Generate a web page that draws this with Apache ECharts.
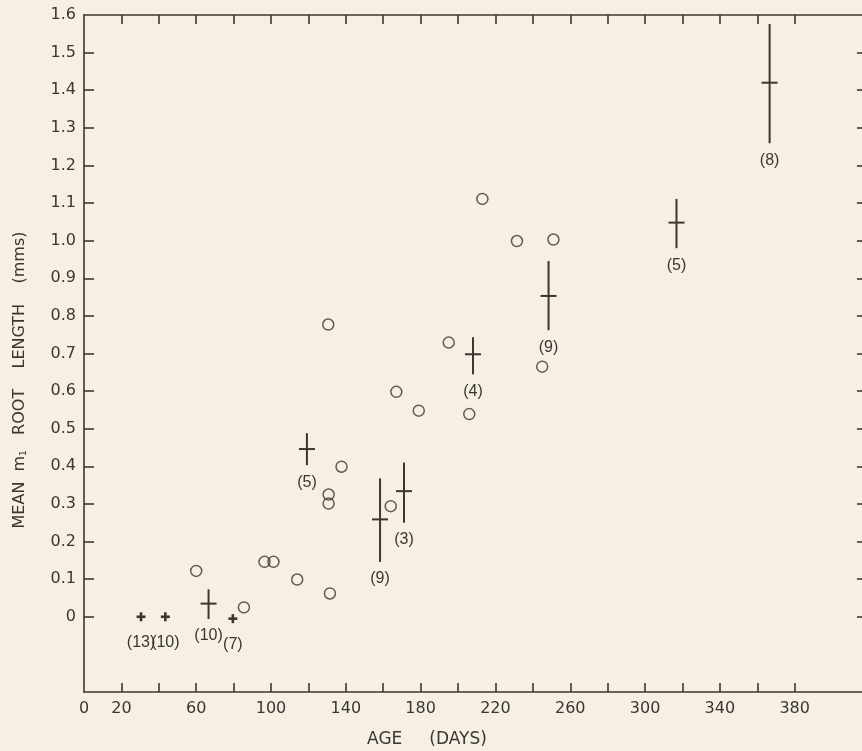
<!DOCTYPE html>
<html><head><meta charset="utf-8">
<script src="https://cdn.jsdelivr.net/npm/echarts@6/dist/echarts.min.js"></script>
<style>html,body{margin:0;padding:0;background:#f5f0e3}#c{width:862px;height:751px}</style>
</head><body><div id="c"></div><script>
// Individual plants (open circles)
const circleAges    = [60, 85.5, 96.5, 101.3, 114, 131.5, 130.6, 130.8, 130.8, 137.7, 164, 167, 179, 195, 206, 213, 231.5, 245, 251];
const circleLengths = [0.122, 0.025, 0.146, 0.146, 0.099, 0.062, 0.777, 0.325, 0.301, 0.399, 0.294, 0.598, 0.548, 0.729, 0.539, 1.111, 0.999, 0.665, 1.003];
// Group means with ranges and sample sizes
const meanAges    = [30.5, 43.5, 66.6, 79.6, 119.2, 158.3, 171.1, 208, 248.4, 316.8, 366.6];
const meanLengths = [0, 0, 0.035, -0.005, 0.446, 0.259, 0.334, 0.698, 0.853, 1.048, 1.42];
const lowLengths  = [0, 0, -0.006, -0.005, 0.403, 0.146, 0.25, 0.645, 0.762, 0.98, 1.259];
const highLengths = [0, 0, 0.073, -0.005, 0.488, 0.368, 0.41, 0.743, 0.946, 1.111, 1.576];
const sampleSizes = [13, 10, 10, 7, 5, 9, 3, 4, 9, 5, 8];
// Axis ticks and labels
const xTickValues  = [20,40,60,80,100,120,140,160,180,200,220,240,260,280,300,320,340,360,380];
const xLabelValues = [0,20,60,100,140,180,220,260,300,340,380];
const yTickValues  = [0,0.1,0.2,0.3,0.4,0.5,0.6,0.7,0.8,0.9,1.0,1.1,1.2,1.3,1.4,1.5];
const yLabelValues = [0,0.1,0.2,0.3,0.4,0.5,0.6,0.7,0.8,0.9,1.0,1.1,1.2,1.3,1.4,1.5,1.6];

const ink = '#3b3631';
const font = 'DejaVu Sans';
const labelFont = 'Liberation Sans';
const chart = echarts.init(document.getElementById('c'));

const circleData = circleAges.map((a, i) => [a, circleLengths[i]]);
const meanData = meanAges.map((a, i) => [a, meanLengths[i], lowLengths[i], highLengths[i], sampleSizes[i]]);

const axisLine = {show: true, onZero: false, lineStyle: {color: ink, width: 1.6}};
chart.setOption({
  backgroundColor: '#f5f0e3',
  animation: false,
  grid: {left: 84, right: -2, top: 15, bottom: 59},
  xAxis: [{
    type: 'value', position: 'bottom', min: 0, max: 416,
    axisLine: axisLine, splitLine: {show: false},
    axisTick: {show: true, inside: true, length: 9, customValues: xTickValues, lineStyle: {color: ink, width: 1.6}},
    axisLabel: {show: true, customValues: xLabelValues, color: ink, fontFamily: font, fontSize: 16, margin: 9}
  }, {
    type: 'value', position: 'top', min: 0, max: 416,
    axisLine: axisLine, splitLine: {show: false},
    axisTick: {show: true, inside: true, length: 9, customValues: xTickValues, lineStyle: {color: ink, width: 1.6}},
    axisLabel: {show: false}
  }],
  yAxis: [{
    type: 'value', position: 'left', min: -0.2, max: 1.6,
    axisLine: axisLine, splitLine: {show: false},
    axisTick: {show: true, inside: true, length: 10, customValues: yTickValues, lineStyle: {color: ink, width: 1.6}},
    axisLabel: {show: true, customValues: yLabelValues, color: ink, fontFamily: font, fontSize: 16, margin: 8,
      formatter: v => (Math.abs(v) < 1e-9 ? '0' : v.toFixed(1))}
  }, {
    type: 'value', position: 'right', min: -0.2, max: 1.6,
    axisLine: {show: false, onZero: false}, splitLine: {show: false},
    axisTick: {show: true, inside: true, length: 5, customValues: yTickValues, lineStyle: {color: ink, width: 1.6}},
    axisLabel: {show: false}
  }],
  graphic: [{
    type: 'text', x: 20, y: 380, rotation: Math.PI / 2,
    style: {
      text: '{a|MEAN  m}{s|1}{a|   ROOT    LENGTH    (mms)}',
      align: 'center', verticalAlign: 'middle',
      rich: {
        a: {fontFamily: font, fontSize: 16, fill: ink, color: ink},
        s: {fontFamily: font, fontSize: 9, fill: ink, color: ink, verticalAlign: 'bottom', padding: [8, 0, 0, 0]}
      }
    }
  }, {
    type: 'text', x: 427, y: 740,
    style: {text: 'AGE     (DAYS)', align: 'center', verticalAlign: 'middle', fontFamily: font, fontSize: 17, fill: ink}
  }],
  series: [{
    type: 'scatter', xAxisIndex: 0, yAxisIndex: 0,
    data: circleData, symbol: 'circle', symbolSize: 11,
    itemStyle: {color: 'rgba(0,0,0,0)', borderColor: ink, borderWidth: 1.5}
  }, {
    type: 'custom', xAxisIndex: 0, yAxisIndex: 0, data: meanData,
    renderItem: function (params, api) {
      const x = api.value(0), m = api.value(1), lo = api.value(2), hi = api.value(3), n = api.value(4);
      const pm = api.coord([x, m]), pl = api.coord([x, lo]), ph = api.coord([x, hi]);
      const small = (pl[1] - ph[1]) < 4;
      const halfW = small ? 4.5 : 8;
      const top = small ? pm[1] - 4.5 : ph[1];
      const bot = small ? pm[1] + 4.5 : pl[1];
      const lw = small ? 2.6 : 2;
      return {type: 'group', children: [
        {type: 'line', shape: {x1: pm[0], y1: top, x2: pm[0], y2: bot}, style: {stroke: ink, lineWidth: lw}},
        {type: 'line', shape: {x1: pm[0] - halfW, y1: pm[1], x2: pm[0] + halfW, y2: pm[1]}, style: {stroke: ink, lineWidth: lw}},
        {type: 'text', x: pm[0], y: bot + (small ? 21 : 17),
          style: {text: '(' + n + ')', align: 'center', verticalAlign: 'middle', fontFamily: labelFont, fontSize: 16, fill: ink}}
      ]};
    }
  }]
});
</script></body></html>
